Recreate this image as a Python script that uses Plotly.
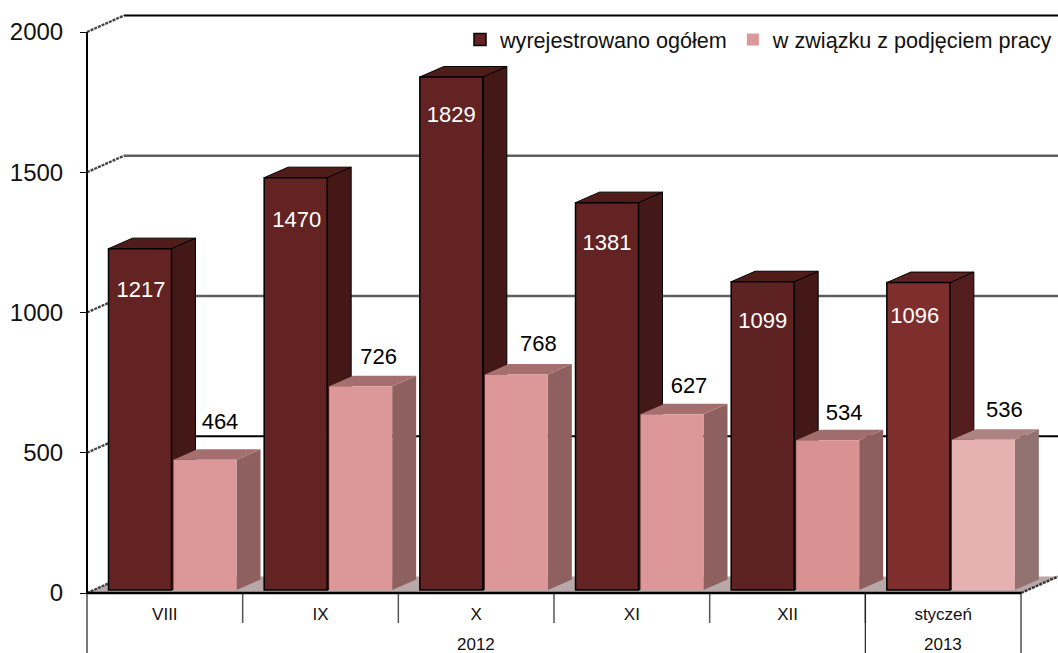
import plotly.graph_objects as go

months = ["VIII", "IX", "X", "XI", "XII", "styczeń"]
years = ["2012", "2013"]
year_spans = [(0, 5), (5, 6)]
total = [1217, 1470, 1829, 1381, 1099, 1096]
work = [464, 726, 768, 627, 534, 536]
y_ticks = [0, 500, 1000, 1500, 2000]
name_total = "wyrejestrowano ogółem"
name_work = "w związku z podjęciem pracy"

# styles, one per bar
front_total = ["#632323", "#632323", "#632323", "#632323", "#5E2222", "#7F2E2E"]
side_total = ["#431816", "#431816", "#431816", "#431816", "#431816", "#531D1E"]
top_total = ["#4F1C1A", "#4F1C1A", "#4F1C1A", "#4F1C1A", "#4F1C1A", "#5E2222"]
front_work = ["#DC9898", "#DC9898", "#DC9898", "#DC9898", "#D89292", "#E5B1B1"]
side_work = ["#8F6060", "#8F6060", "#8F6060", "#8F6060", "#8C5E5E", "#937272"]
top_work = ["#A66F6F", "#A66F6F", "#A66F6F", "#A66F6F", "#A06C6C", "#AD8383"]

# geometry
W, H = 1058, 653
L, Y0 = 87, 593
PX_CAT = 155.67
PX_Y = 561 / 2000
XMAX = (W - L) / PX_CAT
XMIN = -L / PX_CAT
def px_x(p): return p / PX_CAT
def px_y(p): return p / PX_Y

BASE = px_y(3)
WALL_DX, WALL_DY = px_x(37), px_y(16.5)
BAR_DX, BAR_DY = px_x(24), px_y(10.5)
BAR_W = px_x(63)
OFF_T, OFF_W = px_x(21.5), px_x(86.5)
# label nudges in pixels (x, y) from the bar's default anchor
nudge_total = [(1, 43), (1, 44), (0, 40), (0, 42), (0, 41), (-3.5, 35)]
nudge_work = [(15, 36), (18, 28), (22, 29), (17, 27), (16.5, 26), (21, 28)]

fig = go.Figure()

def poly(xs, ys, fill, line="rgba(0,0,0,0)", lw=0, z=0):
    fig.add_trace(go.Scatter(x=xs, y=ys, mode="lines", fill="toself", fillcolor=fill,
                             line=dict(color=line, width=lw), showlegend=False,
                             hoverinfo="skip", zorder=z))

def seg(xs, ys, color, lw, dash="solid", z=0):
    fig.add_trace(go.Scatter(x=xs, y=ys, mode="lines", line=dict(color=color, width=lw, dash=dash),
                             showlegend=False, hoverinfo="skip", zorder=z))

N = len(months)
# floor
poly([0, WALL_DX, XMAX, N, 0], [0, WALL_DY, WALL_DY, 0, 0], "#B9A8A8")
# wall grid lines
grid_col = {500: "#000000", 1000: "#5F5F5F", 1500: "#5F5F5F", 2000: "#000000"}
grid_w = {500: 1.8, 1000: 2.6, 1500: 2.6, 2000: 2.2}
for v in y_ticks:
    if v > 0:
        seg([WALL_DX, XMAX], [v + WALL_DY, v + WALL_DY], grid_col[v], grid_w[v])
    seg([0, WALL_DX], [v, v + WALL_DY], "#444444", 2.4, "3px,1px")
seg([N, XMAX], [0, WALL_DY], "#333333", 2.4, "3px,1px")

# 3D sides and tops
def box_faces(i, off, value, side, top, line, lw, z):
    xl, xr = i + off, i + off + BAR_W
    b, t = BASE, BASE + value
    poly([xr, xr + BAR_DX, xr + BAR_DX, xr, xr], [b, b + BAR_DY, t + BAR_DY, t, b], side, line, lw, z)
    poly([xl, xl + BAR_DX, xr + BAR_DX, xr, xl], [t, t + BAR_DY, t + BAR_DY, t, t], top, line, lw, z)

for i in range(N):
    box_faces(i, OFF_T, total[i], side_total[i], top_total[i], "#000000", 1, 1)
    box_faces(i, OFF_W, work[i], side_work[i], top_work[i], "rgba(0,0,0,0)", 0, 3)

idx = list(range(N))
fig.add_trace(go.Bar(x=idx, y=total, base=BASE, width=BAR_W, offset=OFF_T, name=name_total,
                     marker=dict(color=front_total, line=dict(color="#000000", width=1.5)),
                     zorder=2, hoverinfo="y"))
fig.add_trace(go.Bar(x=idx, y=work, base=BASE, width=BAR_W, offset=OFF_W, name=name_work,
                     marker=dict(color=front_work, line=dict(width=0)),
                     zorder=4, hoverinfo="y"))

# data labels
fig.add_trace(go.Scatter(
    x=[i + OFF_T + BAR_W / 2 + px_x(n[0]) for i, n in zip(idx, nudge_total)],
    y=[BASE + v - px_y(n[1]) for v, n in zip(total, nudge_total)],
    mode="text", text=[str(v) for v in total], textposition="middle center",
    textfont=dict(color="white", size=22, family="Liberation Sans"),
    showlegend=False, hoverinfo="skip", zorder=5))
fig.add_trace(go.Scatter(
    x=[i + OFF_W + BAR_W / 2 + px_x(n[0]) for i, n in zip(idx, nudge_work)],
    y=[BASE + v + px_y(n[1]) for v, n in zip(work, nudge_work)],
    mode="text", text=[str(v) for v in work], textposition="middle center",
    textfont=dict(color="black", size=22, family="Liberation Sans"),
    showlegend=False, hoverinfo="skip", zorder=5))

# axis lines and category dividers
seg([0, 0], [0, 2000], "#000000", 2, z=6)
seg([0, N], [0, 0], "#000000", 2.5, z=6)
for c in range(1, N):
    seg([c, c], [0, px_y(-30)], "#555555", 1.5)
for c in [0, 5, 6]:
    seg([c, c], [0, px_y(-60)], "#222222", 1.2)

annotations = [dict(x=(a + b) / 2, y=px_y(-51), xref="x", yref="y", yanchor="middle",
                    text=t, showarrow=False, font=dict(size=17, color="#111111"))
               for t, (a, b) in zip(years, year_spans)]

fig.update_layout(
    width=W, height=H, autosize=False,
    margin=dict(l=0, r=0, t=0, b=0, pad=0),
    paper_bgcolor="white", plot_bgcolor="white",
    font=dict(family="Liberation Sans", color="#111111"),
    barmode="overlay",
    annotations=annotations,
    legend=dict(orientation="h", xref="paper", yref="paper", x=1.0, xanchor="right",
                y=1 - 40 / H, yanchor="middle", bgcolor="rgba(0,0,0,0)",
                font=dict(size=21.6), itemwidth=30, tracegroupgap=0, traceorder="normal"),
    xaxis=dict(range=[XMIN, XMAX], tickmode="array", tickvals=[i + 0.5 for i in idx], ticktext=months,
               ticks="", tickfont=dict(size=17), showgrid=False, zeroline=False, showline=False,
               anchor="free", position=(H - Y0) / H, ticklabelstandoff=9),
    yaxis=dict(range=[-(H - Y0) / PX_Y, Y0 / PX_Y], tickmode="array", tickvals=y_ticks, ticks="outside",
               ticklen=7, tickcolor="#000000", tickwidth=1, tickfont=dict(size=24), showgrid=False,
               zeroline=False, showline=False, anchor="free", position=L / W, ticklabelstandoff=12),
)
fig.write_html("out.html", config={"displayModeBar": False},
               post_script="document.body.style.margin='0';document.documentElement.style.overflow='hidden';")
